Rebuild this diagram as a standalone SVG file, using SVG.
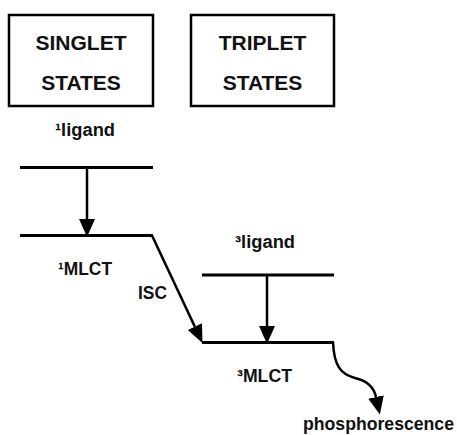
<svg xmlns="http://www.w3.org/2000/svg" width="457" height="435" viewBox="0 0 457 435">
<style>
.box{fill:#fff;stroke:#000;stroke-width:2.5}
.title{font-family:"Liberation Sans",Arial,sans-serif;font-weight:bold;font-size:21px;text-anchor:middle;fill:#111}
.lbl{font-family:"Liberation Sans",Arial,sans-serif;font-weight:bold;font-size:18px;fill:#111}
.lvl{stroke:#000;stroke-width:3;fill:none}
.arr{stroke:#000;stroke-width:2.5;fill:none;marker-end:url(#ah)}
</style>
<defs>
<marker id="ah" markerUnits="userSpaceOnUse" markerWidth="18" markerHeight="16" refX="0" refY="7.5" orient="auto" viewBox="0 0 17 15">
<path d="M0,0 L17,7.5 L0,15 z" fill="#000"/>
</marker>
</defs>
<rect width="457" height="435" fill="#fff"/>
<g id="singlet-box">
<rect class="box" x="9" y="15" width="144" height="91"/>
<text class="title" x="81" y="50">SINGLET</text>
<text class="title" x="81" y="90">STATES</text>
</g>
<g id="triplet-box">
<rect class="box" x="191" y="15" width="143" height="91"/>
<text class="title" x="262.5" y="50">TRIPLET</text>
<text class="title" x="262.5" y="90">STATES</text>
</g>
<g id="singlet-ligand">
<line class="lvl" x1="20" y1="167.5" x2="153" y2="167.5"/>
<text class="lbl" x="55" y="136" textLength="60" lengthAdjust="spacingAndGlyphs">¹ligand</text>
</g>
<g id="singlet-mlct">
<line class="lvl" x1="20" y1="235.5" x2="153" y2="235.5"/>
<text class="lbl" x="58" y="275" textLength="54" lengthAdjust="spacingAndGlyphs">¹MLCT</text>
</g>
<g id="triplet-ligand">
<line class="lvl" x1="202" y1="275" x2="334" y2="275"/>
<text class="lbl" x="235" y="248" textLength="60" lengthAdjust="spacingAndGlyphs">³ligand</text>
</g>
<g id="triplet-mlct">
<line class="lvl" x1="202" y1="342.5" x2="334" y2="342.5"/>
<text class="lbl" x="237" y="382" textLength="55" lengthAdjust="spacingAndGlyphs">³MLCT</text>
</g>
<g id="connectors">
<line class="arr" x1="87" y1="168" x2="87" y2="219"/>
<line class="arr" x1="267" y1="275" x2="267" y2="326"/>
<path class="arr" d="M152,235.5 L194.8,326.6"/>
<path class="arr" d="M333,342 C334,365 340,374 355,378 C368,381 374,388 376,397"/>
<text class="lbl" x="138" y="299" textLength="29" lengthAdjust="spacingAndGlyphs">ISC</text>
<text class="lbl" x="303" y="430" textLength="151" lengthAdjust="spacingAndGlyphs">phosphorescence</text>
</g>
</svg>
